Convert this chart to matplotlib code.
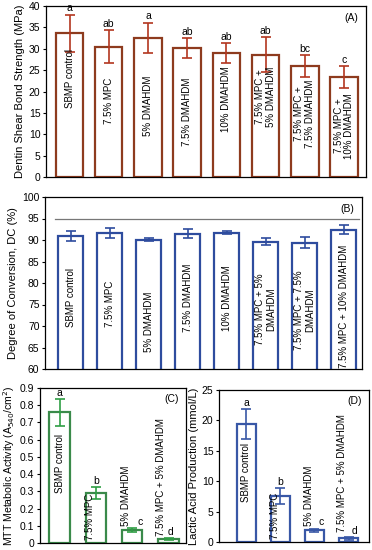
import matplotlib
matplotlib.use("Agg")
import matplotlib.pyplot as plt
import numpy as np

plt.rcParams["font.family"] = ["Liberation Sans", "DejaVu Sans"]

# (A) dentin shear bond strength
groups_ab = ["SBMP control", "7.5% MPC", "5% DMAHDM", "7.5% DMAHDM", "10% DMAHDM",
             "7.5% MPC +\n5% DMAHDM", "7.5% MPC +\n7.5% DMAHDM", "7.5% MPC +\n10% DMAHDM"]
bond_mean = [33.6, 30.5, 32.6, 30.1, 29.0, 28.6, 26.0, 23.4]
bond_sd = [4.4, 3.8, 3.5, 2.3, 2.3, 4.1, 2.5, 2.6]
bond_letters = ["a", "ab", "a", "ab", "ab", "ab", "bc", "c"]

# (B) degree of conversion
groups_b = ["SBMP control", "7.5% MPC", "5% DMAHDM", "7.5% DMAHDM", "10% DMAHDM",
            "7.5% MPC + 5%\nDMAHDM", "7.5% MPC + 7.5%\nDMAHDM", "7.5% MPC + 10% DMAHDM"]
dc_mean = [91.0, 91.6, 90.1, 91.4, 91.7, 89.6, 89.4, 92.4]
dc_sd = [1.15, 1.25, 0.25, 1.05, 0.4, 0.85, 1.2, 1.1]
dc_ref = 95

# (C) MTT and (D) lactic acid
groups_cd = ["SBMP control", "7.5% MPC", "5% DMAHDM", "7.5% MPC + 5% DMAHDM"]
mtt_mean = [0.76, 0.293, 0.075, 0.022]
mtt_sd = [0.078, 0.035, 0.013, 0.006]
mtt_letters = ["a", "b", "c", "d"]
lactic_mean = [19.4, 7.6, 1.9, 0.6]
lactic_sd = [2.4, 1.3, 0.3, 0.2]
lactic_letters = ["a", "b", "c", "d"]

BROWN = "#8E3B1E"
BROWN_ERR = "#B3361F"
BLUE = "#2E4C9E"
GREEN = "#3A8A4A"
GREEN_ERR = "#2F9E44"
BLUE_D = "#3857A6"

fig = plt.figure(figsize=(3.72, 5.5), dpi=100)
W, H = 372, 550


def add_ax(l, t, r, b):
    return fig.add_axes([l / W, 1 - b / H, (r - l) / W, (b - t) / H])


def style(ax):
    ax.tick_params(axis="y", direction="out", length=2.5, width=0.8, labelsize=7.5, pad=1.5)
    ax.tick_params(axis="x", length=0, labelbottom=False)
    for s in ax.spines.values():
        s.set_linewidth(0.9)


def bars(ax, means, sds, width, edge, err, lw=1.6):
    x = np.arange(len(means))
    ax.bar(x, means, width, facecolor="white", edgecolor=edge, linewidth=lw, zorder=2)
    ax.errorbar(x, means, yerr=sds, fmt="none", ecolor=err, elinewidth=1.2,
                capsize=3.5, capthick=1.2, zorder=3)
    return x


# panel A
axA = add_ax(46, 6, 366, 177)
x = bars(axA, bond_mean, bond_sd, 0.7, BROWN, BROWN_ERR)
axA.set_xlim(-0.6, 7.56)
axA.set_ylim(0, 40)
axA.set_yticks(range(0, 41, 5))
for i in x:
    axA.text(i, bond_mean[i] + bond_sd[i] + 0.3, bond_letters[i], ha="center",
             va="bottom", fontsize=7.5)
label_top_a = [29.9, 23.2, 23.6, 23.2, 25.9, 25.9, 22.8, 19.7]
for i in x:
    axA.text(i, label_top_a[i], groups_ab[i], rotation=90, ha="center", va="top",
             fontsize=7, linespacing=1.1)
axA.text(0.975, 0.93, "(A)", transform=axA.transAxes, ha="right", va="center", fontsize=7.5)
axA.set_ylabel("Dentin Shear Bond Strength (MPa)", fontsize=8, labelpad=3)
style(axA)

# panel B
axB = add_ax(45, 197, 362, 369)
x = bars(axB, dc_mean, dc_sd, 0.65, BLUE, BLUE)
axB.axhline(dc_ref, color="#777777", linewidth=0.9, xmin=0.03, xmax=0.99, zorder=1)
axB.set_xlim(-0.66, 7.47)
axB.set_ylim(60, 100)
axB.set_yticks(range(60, 101, 5))
label_top_b = [83.4, 80.6, 77.9, 84.5, 84.2, 82.2, 83.0, 88.9]
for i in x:
    axB.text(i, label_top_b[i], groups_b[i], rotation=90, ha="center", va="top",
             fontsize=7, linespacing=1.1)
axB.text(0.975, 0.93, "(B)", transform=axB.transAxes, ha="right", va="center", fontsize=7.5)
axB.set_ylabel("Degree of Conversion, DC (%)", fontsize=8, labelpad=3)
style(axB)

# panel C
axC = add_ax(40, 388, 186, 543)
x = bars(axC, mtt_mean, mtt_sd, 0.56, GREEN, GREEN_ERR)
axC.set_xlim(-0.54, 3.48)
axC.set_ylim(0, 0.9)
axC.set_yticks(np.arange(0, 0.91, 0.1))
axC.set_yticklabels(["0"] + [f"{v:.1f}" for v in np.arange(0.1, 0.91, 0.1)])
label_y_c = [0.29, 0.02, 0.097, 0.04]
label_dx_c = [0, -0.17, -0.17, -0.2]
for i in x:
    axC.text(i + label_dx_c[i], label_y_c[i], groups_cd[i], rotation=90, ha="center",
             va="bottom", fontsize=7)
letter_dx_c = [0, 0, 0.22, 0.05]
for i in x:
    axC.text(i + letter_dx_c[i], mtt_mean[i] + mtt_sd[i] + 0.005, mtt_letters[i],
             ha="center", va="bottom", fontsize=7.5)
axC.text(0.95, 0.93, "(C)", transform=axC.transAxes, ha="right", va="center", fontsize=7.5)
axC.set_ylabel("MTT Metabolic Activity (A$_{540}$/cm$^2$)", fontsize=7.6, labelpad=2)
style(axC)

# panel D
axD = add_ax(219, 390, 369, 542)
x = bars(axD, lactic_mean, lactic_sd, 0.56, BLUE_D, BLUE_D)
axD.set_xlim(-0.8, 3.6)
axD.set_ylim(0, 25)
axD.set_yticks(range(0, 26, 5))
label_y_d = [6.5, 0.5, 2.7, 1.6]
label_dx_d = [0, -0.15, -0.15, -0.18]
for i in x:
    axD.text(i + label_dx_d[i], label_y_d[i], groups_cd[i], rotation=90, ha="center",
             va="bottom", fontsize=7)
letter_dx_d = [0, 0, 0.2, 0.17]
for i in x:
    axD.text(i + letter_dx_d[i], lactic_mean[i] + lactic_sd[i] + 0.2, lactic_letters[i],
             ha="center", va="bottom", fontsize=7.5)
axD.text(0.95, 0.93, "(D)", transform=axD.transAxes, ha="right", va="center", fontsize=7.5)
axD.set_ylabel("Lactic Acid Production (mmol/L)", fontsize=8, labelpad=2)
style(axD)

fig.savefig("out.png", dpi=100)
